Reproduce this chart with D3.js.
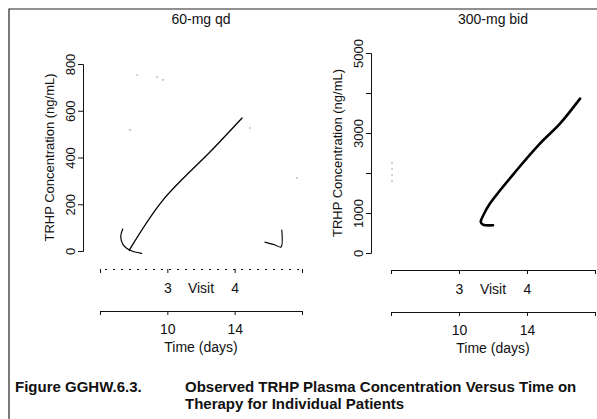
<!DOCTYPE html>
<html>
<head>
<meta charset="utf-8">
<script src="https://cdn.jsdelivr.net/npm/d3@7"></script>
<style>
  body { margin: 0; background: #fff; }
  svg text { font-family: "Liberation Sans", Arial, sans-serif; fill: #111; }
</style>
</head>
<body>
<div id="chart"></div>
<script>
// panel titles
var panelTitles = ["60-mg qd", "300-mg bid"];

// y ticks (labels that R dropped for overlap are blank)
var lowTicks = [0, 200, 400, 600, 800];
var highTicks = [0, 1000, 2000, 3000, 4000, 5000];
var highTickLabels = ["0", "1000", "", "3000", "", "5000"];

// x axes
var timeTicks = [6, 10, 14, 18];
var timeTickLabels = ["", "10", "14", ""];
var visitTicks = [6, 10, 14, 18];
var visitTickLabels = ["", "3", "4", ""];

// observed curves, [day, ng/mL]
var lowMain = [[7.74, 4], [9.74, 218], [12.65, 432], [14.44, 569]];
var lowHook = [[7.35, 94], [7.23, 61], [7.38, 26], [7.74, 4], [8.47, -10]];
var lowTick = [[15.8, 38], [16.4, 26], [16.75, 17], [16.8, 90]];
var highMain = [[12.0, 693], [11.41, 710], [11.28, 775], [11.43, 943], [11.82, 1235],
                [13.39, 2068], [14.76, 2735], [15.94, 3235], [17.12, 3860]];

// faint specks left by the scan
var lowSpecks = [[8.2, 753], [9.39, 744], [9.74, 732], [7.78, 518], [14.9, 526], [17.7, 312]];
var highSpecks = [[6.06, 1800], [6.06, 1950], [6.06, 2100], [6.06, 2250]];

var width = 597, height = 419;

var svg = d3.select("#chart").append("svg")
  .attr("width", width)
  .attr("height", height);

// scanned page frame
svg.append("path")
  .attr("d", "M9,419V9H597")
  .attr("fill", "none")
  .attr("stroke", "#222")
  .attr("stroke-width", 1.2);

var panels = [
  { title: panelTitles[0], yAxisX: 83, x0: 100, x1: 302, yMax: 800, yBottom: 251, yTop: 64,
    ticks: lowTicks, tickLabels: lowTicks.map(String), visitY: 269, timeY: 311,
    visitDash: "2,6", lines: [[lowMain, 1.3], [lowHook, 1.2], [lowTick, 1.1]], specks: lowSpecks },
  { title: panelTitles[1], yAxisX: 371, x0: 391, x1: 595, yMax: 5000, yBottom: 253, yTop: 53,
    ticks: highTicks, tickLabels: highTickLabels, visitY: 270, timeY: 312,
    visitDash: null, lines: [[highMain, 2.6]], specks: highSpecks }
];

panels.forEach(function(p) {
  var x = d3.scaleLinear().domain([6, 18]).range([p.x0, p.x1]);
  var y = d3.scaleLinear().domain([0, p.yMax]).range([p.yBottom, p.yTop]);
  var g = svg.append("g");

  // title
  g.append("text")
    .attr("x", (p.x0 + p.x1) / 2)
    .attr("y", 24)
    .attr("text-anchor", "middle")
    .style("font-size", "14px")
    .text(p.title);

  // y axis, labels parallel to axis like R's las=0
  var yAxis = g.append("g")
    .attr("transform", "translate(" + p.yAxisX + ",0)")
    .call(d3.axisLeft(y).tickValues(p.ticks).tickSizeOuter(0).tickSize(5)
      .tickFormat(function(d, i) { return p.tickLabels[i]; }));
  yAxis.select(".domain").attr("stroke", "#111");
  yAxis.selectAll(".tick line").attr("stroke", "#111");
  yAxis.selectAll(".tick text")
    .attr("transform", "rotate(-90)")
    .attr("text-anchor", "middle")
    .attr("x", 0)
    .attr("y", -8.5)
    .attr("dy", 0)
    .style("font-size", "13px")
    .style("font-family", "Liberation Sans, Arial, sans-serif")
    .attr("fill", "#111");

  g.append("text")
    .attr("transform", "translate(" + (p.yAxisX - 34) + "," + ((p.yBottom + p.yTop) / 2) + ") rotate(-90)")
    .attr("text-anchor", "middle")
    .attr("dy", "0.35em")
    .style("font-size", "13px")
    .text("TRHP Concentration (ng/mL)");

  // visit axis
  var vAxis = g.append("g")
    .attr("transform", "translate(0," + p.visitY + ")")
    .call(d3.axisBottom(x).tickValues(visitTicks).tickSizeOuter(0).tickSize(4)
      .tickFormat(function(d, i) { return visitTickLabels[i]; }));
  vAxis.select(".domain").attr("stroke", "#111").attr("stroke-dasharray", p.visitDash);
  vAxis.selectAll(".tick line").attr("stroke", "#111");
  vAxis.selectAll(".tick text").attr("y", 14).style("font-size", "14px")
    .style("font-family", "Liberation Sans, Arial, sans-serif").attr("fill", "#111");
  g.append("text")
    .attr("x", x(12))
    .attr("y", p.visitY + 14)
    .attr("dy", "0.71em")
    .attr("text-anchor", "middle")
    .style("font-size", "14px")
    .text("Visit");

  // time axis
  var tAxis = g.append("g")
    .attr("transform", "translate(0," + p.timeY + ")")
    .call(d3.axisBottom(x).tickValues(timeTicks).tickSizeOuter(0).tickSize(4)
      .tickFormat(function(d, i) { return timeTickLabels[i]; }));
  tAxis.select(".domain").attr("stroke", "#111");
  tAxis.selectAll(".tick line").attr("stroke", "#111");
  tAxis.selectAll(".tick text").attr("y", 13).style("font-size", "14px")
    .style("font-family", "Liberation Sans, Arial, sans-serif").attr("fill", "#111");
  g.append("text")
    .attr("x", x(12))
    .attr("y", p.timeY + 31)
    .attr("dy", "0.71em")
    .attr("text-anchor", "middle")
    .style("font-size", "14px")
    .text("Time (days)");

  // lines
  var line = d3.line()
    .x(function(d) { return x(d[0]); })
    .y(function(d) { return y(d[1]); })
    .curve(d3.curveCatmullRom.alpha(0.5));

  p.lines.forEach(function(l) {
    g.append("path")
      .datum(l[0])
      .attr("d", line)
      .attr("fill", "none")
      .attr("stroke", "#000")
      .attr("stroke-width", l[1])
      .attr("stroke-linecap", "round");
  });

  g.selectAll(".speck")
    .data(p.specks)
    .enter()
    .append("circle")
    .attr("cx", function(d) { return x(d[0]); })
    .attr("cy", function(d) { return y(d[1]); })
    .attr("r", 0.8)
    .attr("fill", "#999");
});

// caption
svg.append("text")
  .attr("x", 15)
  .attr("y", 392)
  .style("font-size", "15px")
  .style("font-weight", "bold")
  .text("Figure GGHW.6.3.");
svg.append("text")
  .attr("x", 185)
  .attr("y", 392)
  .style("font-size", "15px")
  .style("font-weight", "bold")
  .text("Observed TRHP Plasma Concentration Versus Time on");
svg.append("text")
  .attr("x", 185)
  .attr("y", 409)
  .style("font-size", "15px")
  .style("font-weight", "bold")
  .text("Therapy for Individual Patients");
</script>
</body>
</html>
